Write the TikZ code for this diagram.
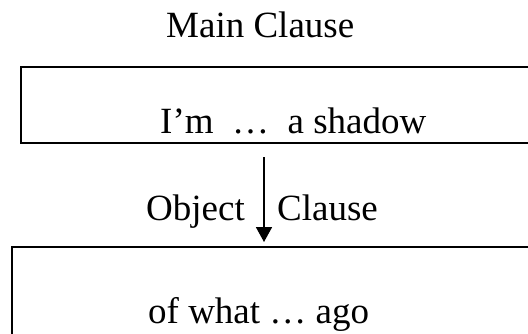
\documentclass[tikz,border=0pt]{standalone}
\usepackage{fontspec}
\setmainfont{Liberation Serif}
\usetikzlibrary{arrows.meta}
\begin{document}
\begin{tikzpicture}[x=1pt,y=-1pt,
  lbl/.style={inner sep=0pt,anchor=base west,font=\fontsize{37}{44}\selectfont},
  frame/.style={draw,line width=2.2pt,inner sep=0pt,outer sep=0pt,anchor=north west},
  conn/.style={line width=1.8pt,-{Triangle[width=16pt,length=15pt]},shorten >=5pt}]
\useasboundingbox (0,0) rectangle (528,333);
\clip (0,0) rectangle (528,333);
\node[frame,minimum width=530pt,minimum height=76pt] (top) at (21,67) {};
\node[frame,minimum width=540pt,minimum height=120pt] (bot) at (12,247) {};
\node[lbl] (main) at (166,37) {Main Clause};
\node[lbl] (toptext) at (160,133) {I’m\ \ …\ \ a shadow};
\node[lbl] (bottext) at (148,323) {of what … ago};
\coordinate (astart) at (264,157);
\draw[conn] (astart) -- (astart |- bot.north);
\node[lbl,anchor=base east] (obj) at (245,220) {Object};
\node[lbl] (cl) at (277,220) {Clause};
\end{tikzpicture}
\end{document}
